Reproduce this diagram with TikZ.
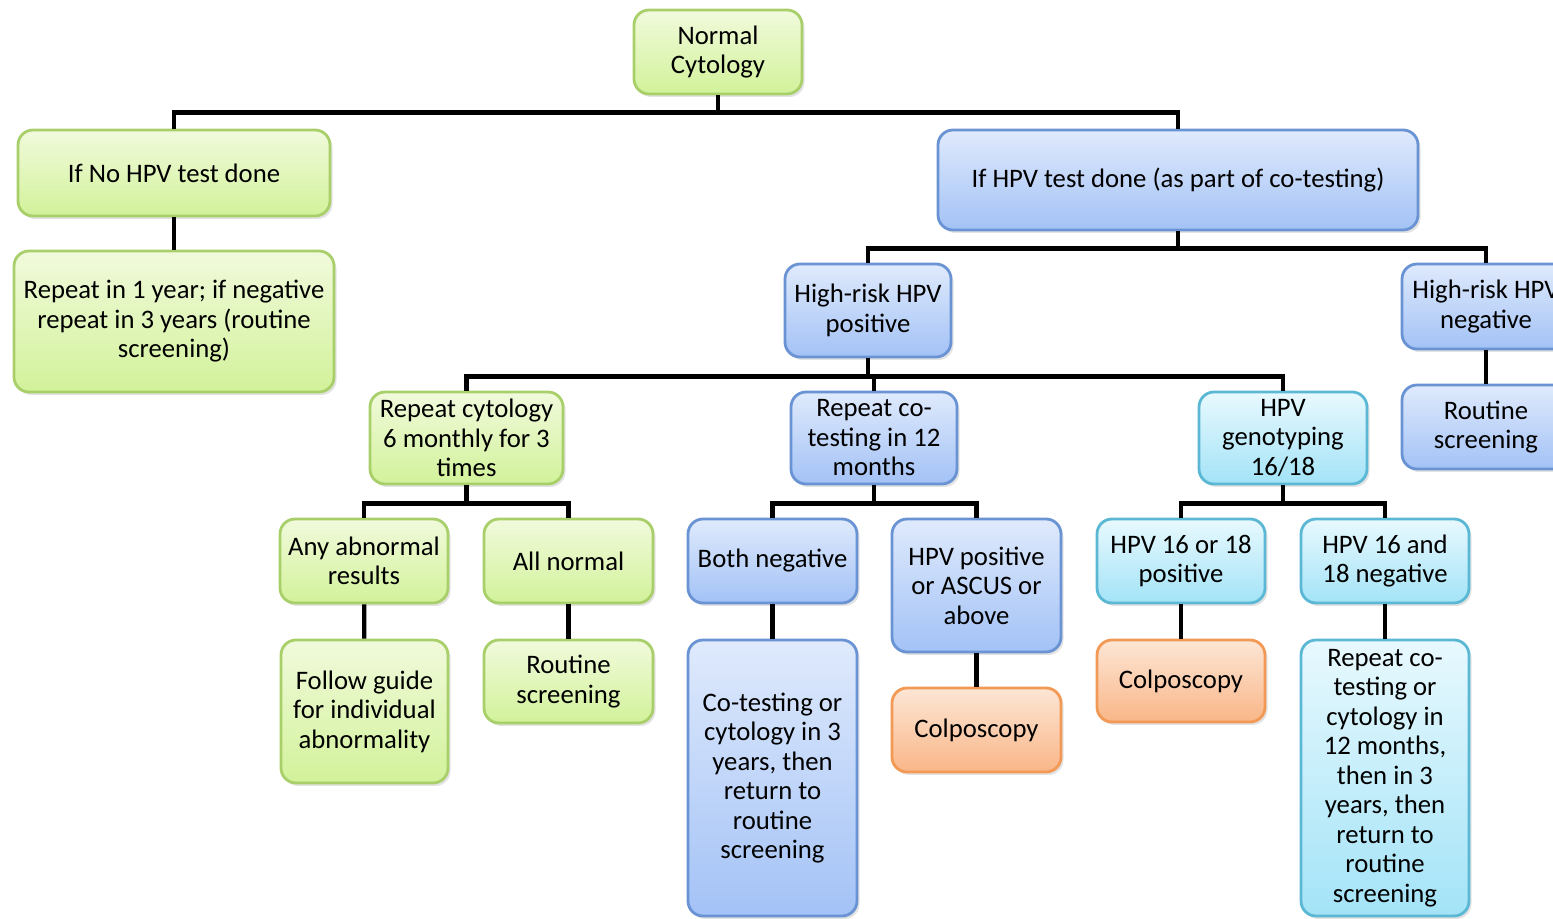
\documentclass[tikz,border=0pt]{standalone}
\usepackage{fontspec}
\setmainfont{Carlito}
\usepackage{tikz}
\usetikzlibrary{calc,positioning,shadows}

\definecolor{greentop}{HTML}{F1FADC}
\definecolor{greenbot}{HTML}{D2F29A}
\definecolor{greenline}{HTML}{A8CF6A}
\definecolor{bluetop}{HTML}{DFEAFC}
\definecolor{bluebot}{HTML}{A3C2F6}
\definecolor{blueline}{HTML}{6A93D4}
\definecolor{cyantop}{HTML}{E8F9FE}
\definecolor{cyanbot}{HTML}{A3E3F7}
\definecolor{cyanline}{HTML}{5BB8D4}
\definecolor{orangetop}{HTML}{FDE6D5}
\definecolor{orangebot}{HTML}{F9B688}
\definecolor{orangeline}{HTML}{F29A55}

\begin{document}
\begin{tikzpicture}[box/.style={rounded corners=0.15cm,line width=0.8pt,align=center,inner sep=1pt,
                     font=\fontsize{7.6}{8.4}\selectfont,drop shadow={opacity=0.22,shadow xshift=0.025cm,shadow yshift=-0.03cm}},
                    gbox/.style={box,draw=greenline,top color=greentop,bottom color=greenbot},
                    bbox/.style={box,draw=blueline,top color=bluetop,bottom color=bluebot},
                    cbox/.style={box,draw=cyanline,top color=cyantop,bottom color=cyanbot},
                    obox/.style={box,draw=orangeline,top color=orangetop,bottom color=orangebot},
                    link/.style={line width=1.2pt,black}]
              \useasboundingbox (0,0) rectangle (15.53,-9.19);
              % top levels
              \node[gbox,minimum width=1.68cm,minimum height=0.84cm] (norm) at (7.18,-0.52) {Normal\\Cytology};
              \node[gbox,minimum width=3.12cm,minimum height=0.86cm] (nohpv) at (1.74,-1.73) {If No HPV test done};
              \node[gbox,minimum width=3.20cm,minimum height=1.41cm] (rep1) at (1.74,-3.215) {Repeat in 1 year; if negative\\repeat in 3 years (routine\\screening)};
              \node[bbox,minimum width=4.80cm,minimum height=1.00cm] (hpv) at (11.78,-1.80) {If HPV test done (as part of co-testing)};
              \node[bbox,minimum width=1.66cm,minimum height=0.93cm] (hrpos) at (8.68,-3.105) {High-risk HPV\\positive};
              \node[bbox,minimum width=1.68cm,minimum height=0.85cm] (hrneg) at (14.86,-3.065) {High-risk HPV\\negative};
              \node[bbox,minimum width=1.68cm,minimum height=0.84cm] (rsr) at (14.86,-4.27) {Routine\\screening};

              % middle level
              \node[gbox,minimum width=1.93cm,minimum height=0.92cm] (rc6) at (4.665,-4.38) {Repeat cytology\\6 monthly for 3\\times};
              \node[bbox,minimum width=1.66cm,minimum height=0.92cm] (rct) at (8.74,-4.38) {Repeat co-\\testing in 12\\months};
              \node[cbox,minimum width=1.68cm,minimum height=0.92cm] (geno) at (12.83,-4.38) {HPV\\genotyping\\16/18};

              % results
              \node[gbox,minimum width=1.68cm,minimum height=0.84cm] (anyab) at (3.64,-5.61) {Any abnormal\\results};
              \node[gbox,minimum width=1.69cm,minimum height=0.84cm] (alln) at (5.685,-5.61) {All normal};
              \node[bbox,minimum width=1.69cm,minimum height=0.84cm] (bothn) at (7.725,-5.61) {Both negative};
              \node[bbox,minimum width=1.69cm,minimum height=1.33cm] (hpvpa) at (9.765,-5.855) {HPV positive\\or ASCUS or\\above};
              \node[cbox,minimum width=1.68cm,minimum height=0.84cm] (p1618) at (11.81,-5.61) {HPV 16 or 18\\positive};
              \node[cbox,minimum width=1.68cm,minimum height=0.84cm] (n1618) at (13.85,-5.61) {HPV 16 and\\18 negative};

              % actions
              \node[gbox,minimum width=1.67cm,minimum height=1.43cm] (follow) at (3.645,-7.115) {Follow guide\\for individual\\abnormality};
              \node[gbox,minimum width=1.69cm,minimum height=0.83cm] (rsl) at (5.685,-6.815) {Routine\\screening};
              \node[bbox,minimum width=1.69cm,minimum height=2.76cm] (cotest) at (7.725,-7.78) {Co-testing or\\cytology in 3\\years, then\\return to\\routine\\screening};
              \node[obox,minimum width=1.69cm,minimum height=0.84cm] (colpm) at (9.765,-7.30) {Colposcopy};
              \node[obox,minimum width=1.68cm,minimum height=0.82cm] (colpr) at (11.81,-6.81) {Colposcopy};
              \node[cbox,minimum width=1.68cm,minimum height=2.76cm] (rep12) at (13.85,-7.78) {Repeat co-\\testing or\\cytology in\\12 months,\\then in 3\\years, then\\return to\\routine\\screening};

              % connectors
              \draw[link] (norm.south) -- ++(0,-0.17) coordinate (j1);
              \draw[link] (nohpv.north) |- (j1) -| (hpv.north);
              \draw[link] (nohpv) -- (rep1);
              \draw[link] (hpv.south) -- ++(0,-0.17) coordinate (j2);
              \draw[link] (hrpos.north) |- (j2) -| (hrneg.north);
              \draw[link] (hrneg) -- (rsr);
              \draw[link] (hrpos.south) -- ++(0,-0.18) coordinate (j3);
              \draw[link] (rc6.north) |- (j3) -| (geno.north);
              \draw[link] (j3) -| (rct.north);
              \draw[link] (rc6.south) -- ++(0,-0.18) coordinate (j4);
              \draw[link] (anyab.north) |- (j4) -| (alln.north);
              \draw[link] (rct.south) -- ++(0,-0.18) coordinate (j5);
              \draw[link] (bothn.north) |- (j5) -| (hpvpa.north);
              \draw[link] (geno.south) -- ++(0,-0.18) coordinate (j6);
              \draw[link] (p1618.north) |- (j6) -| (n1618.north);
              \draw[link] (anyab) -- (follow);
              \draw[link] (alln) -- (rsl);
              \draw[link] (bothn) -- (cotest);
              \draw[link] (hpvpa) -- (colpm);
              \draw[link] (p1618) -- (colpr);
              \draw[link] (n1618) -- (rep12);
            \end{tikzpicture}
\end{document}
